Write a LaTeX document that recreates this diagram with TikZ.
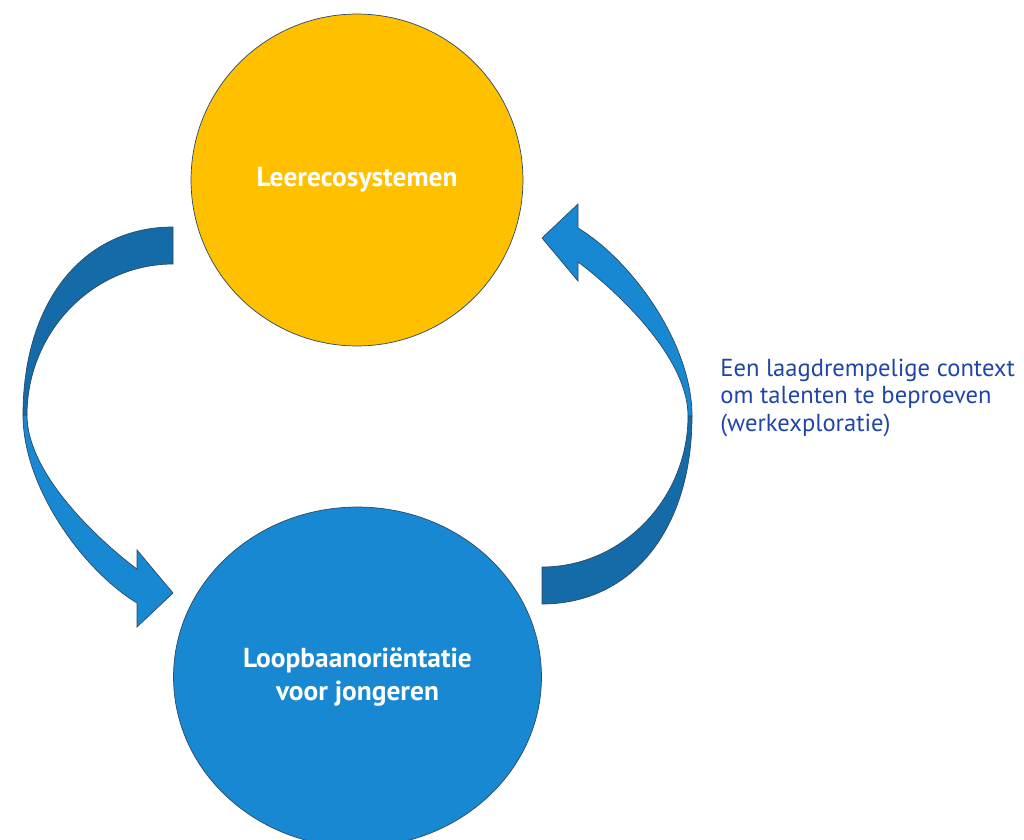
\documentclass[tikz,border=0pt]{standalone}
\usepackage{fontspec}
\setmainfont{PT Sans}
\usetikzlibrary{shapes.geometric}
\definecolor{ringyellow}{HTML}{FFC000}
\definecolor{ringblue}{HTML}{1888D2}
\definecolor{ringdark}{HTML}{146BA7}
\definecolor{ringline}{HTML}{2A4A68}
\definecolor{notetext}{HTML}{1F45A8}
\newcommand{\cyclearrow}{%
  \fill[ringdark,edge](173,227)..controls(83,227)and(23,302)..(23,415)--(27,415)..controls(27,332)and(93,264)..(173,264)--cycle;
  \fill[ringblue,edge](23,415)..controls(23,488)and(84,571)..(137,603)--(137,627)--(173,593)--(137,550)--(137,569)..controls(119,556)and(27,482)..(27,415)--cycle;}
\begin{document}
\begin{tikzpicture}[x=0.02cm,y=-0.02cm,
    edge/.style={draw=ringline,line width=0.4pt},
    ring/.style={edge,inner sep=0pt,text=white,align=center,font=\bfseries\fontsize{15.6}{19.3}\selectfont}]
  \useasboundingbox(0,0)rectangle(1024,839);
  \coordinate(mid)at(357.5,415.5);
  \cyclearrow
  \begin{scope}[rotate around={180:(mid)}]
    \cyclearrow
  \end{scope}
  \node[ring,circle,fill=ringyellow,minimum size=6.64cm](leer)at(357,180){Leerecosystemen};
  \node[ring,ellipse,fill=ringblue,minimum width=7.36cm,minimum height=6.8cm](loop)at(357.5,677){Loopbaanoriëntatie\\voor jongeren};
  \node[anchor=base west,align=left,inner sep=0pt,text=notetext,font=\fontsize{14}{15.6}\selectfont](note)at(720,431){Een laagdrempelige context\\om talenten te beproeven\\(werkexploratie)};
\end{tikzpicture}
\end{document}
